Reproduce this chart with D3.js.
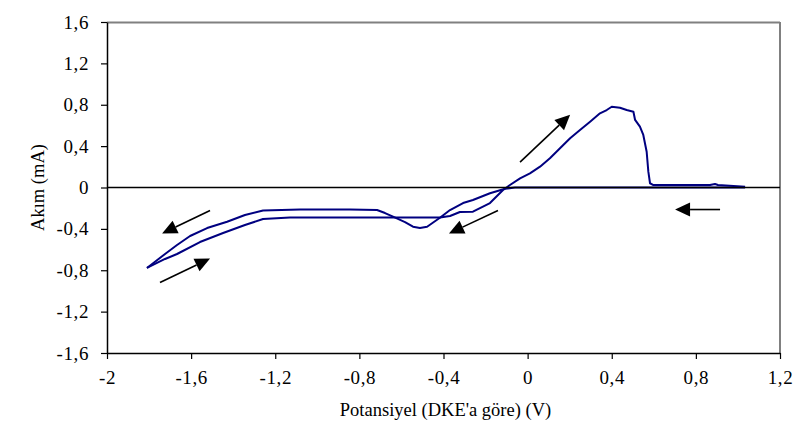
<!DOCTYPE html>
<html>
<head>
<meta charset="utf-8">
<script src="https://cdn.jsdelivr.net/npm/d3@7"></script>
<style>
  html, body { margin: 0; padding: 0; background: #fff; }
  svg { display: block; }
</style>
</head>
<body>
<svg id="chart" width="800" height="447"></svg>
<script>
// ---- data ----
const potentialTicks = [-2, -1.6, -1.2, -0.8, -0.4, 0, 0.4, 0.8, 1.2];
const currentTicks = [-1.6, -1.2, -0.8, -0.4, 0, 0.4, 0.8, 1.2, 1.6];

// cathodic scan (from +1.03 V towards -1.81 V)
const cathodicV = [1.034, 0.582, 0.154, -0.060, -0.107, -0.179, -0.260, -0.307, -0.369, -0.417, -0.478, -0.512, -0.545, -0.583, -0.640, -0.678, -0.716, -0.845, -1.082, -1.258, -1.344, -1.429, -1.524, -1.605, -1.667, -1.724, -1.810];
const cathodicI = [0, 0, 0, 0, -0.012, -0.056, -0.121, -0.150, -0.218, -0.292, -0.379, -0.392, -0.379, -0.334, -0.282, -0.247, -0.218, -0.213, -0.213, -0.222, -0.266, -0.331, -0.392, -0.469, -0.556, -0.643, -0.778];

// anodic scan (from -1.81 V back to +1.03 V)
const anodicV = [-1.810, -1.724, -1.667, -1.558, -1.448, -1.344, -1.258, -1.130, -0.845, -0.417, -0.369, -0.322, -0.260, -0.179, -0.117, -0.084, -0.036, 0.011, 0.059, 0.106, 0.154, 0.202, 0.249, 0.297, 0.344, 0.376, 0.400, 0.439, 0.471, 0.503, 0.511, 0.534, 0.550, 0.566, 0.574, 0.582, 0.598, 0.867, 0.891, 0.905, 1.034];
const anodicI = [-0.778, -0.691, -0.643, -0.527, -0.440, -0.363, -0.305, -0.290, -0.290, -0.290, -0.276, -0.237, -0.234, -0.150, -0.024, 0.024, 0.089, 0.137, 0.201, 0.282, 0.379, 0.476, 0.556, 0.636, 0.717, 0.749, 0.781, 0.771, 0.749, 0.733, 0.653, 0.588, 0.508, 0.346, 0.153, 0.041, 0.024, 0.024, 0.034, 0.024, 0.008];

// scan-direction arrows: tail and tip in data units
const arrowTailV = [-0.036, 0.915, -0.141, -1.510, -1.748];
const arrowTailI = [0.245, -0.213, -0.222, -0.222, -0.919];
const arrowTipV  = [0.202, 0.701, -0.374, -1.738, -1.510];
const arrowTipI  = [0.703, -0.213, -0.445, -0.445, -0.687];

const xTitle = "Potansiyel (DKE'a göre) (V)";
const yTitle = "Akım (mA)";

// ---- chart ----
const FONT = "'Liberation Serif', 'Times New Roman', Times, serif";
const svg = d3.select("#chart");
const pLeft = 107, pRight = 780, pTop = 22, pBottom = 353;
const x = d3.scaleLinear().domain([-2, 1.2]).range([pLeft, pRight]);
const y = d3.scaleLinear().domain([-1.6, 1.6]).range([pBottom, pTop]);
const fmt = d => String(+d.toFixed(1)).replace(".", ",");

// plot frame (top and right in grey)
svg.append("line").attr("x1", pLeft).attr("x2", pRight).attr("y1", pTop + 0.5).attr("y2", pTop + 0.5)
  .attr("stroke", "#808080").attr("stroke-width", 2);
svg.append("line").attr("x1", pRight).attr("x2", pRight).attr("y1", pTop).attr("y2", pBottom)
  .attr("stroke", "#808080").attr("stroke-width", 2);

// data lines
const line = d3.line().x(d => x(d[0])).y(d => y(d[1]));
const series = [
  d3.zip(cathodicV, cathodicI),
  d3.zip(anodicV, anodicI)
];
svg.append("g").selectAll("path").data(series).join("path")
  .attr("d", line)
  .attr("fill", "none")
  .attr("stroke", "#000080")
  .attr("stroke-width", 2)
  .attr("stroke-linejoin", "round");

// zero line
svg.append("line").attr("x1", pLeft).attr("x2", pRight).attr("y1", y(0)).attr("y2", y(0))
  .attr("stroke", "#000").attr("stroke-width", 1.6);

// axes
const xAxis = d3.axisBottom(x).tickValues(potentialTicks).tickFormat(fmt).tickSizeInner(6).tickSizeOuter(0).tickPadding(12);
const yAxis = d3.axisLeft(y).tickValues(currentTicks).tickFormat(fmt).tickSizeInner(6).tickSizeOuter(0).tickPadding(12);

const gx = svg.append("g").attr("transform", `translate(0,${pBottom})`).call(xAxis);
const gy = svg.append("g").attr("transform", `translate(${pLeft},0)`).call(yAxis);
[gx, gy].forEach(g => {
  g.attr("font-family", null).attr("font-size", null);
  g.select(".domain").attr("stroke", "#000").attr("stroke-width", 1.5);
  g.selectAll(".tick line").attr("stroke", "#000").attr("stroke-width", 1.2);
  g.selectAll(".tick text")
    .style("font-family", FONT).style("font-size", "19px").style("letter-spacing", "0.6px")
    .attr("fill", "#000");
});

// arrows
const ag = svg.append("g");
for (let k = 0; k < arrowTailV.length; k++) {
  const x1 = x(arrowTailV[k]), y1 = y(arrowTailI[k]);
  const x2 = x(arrowTipV[k]), y2 = y(arrowTipI[k]);
  const ang = Math.atan2(y2 - y1, x2 - x1);
  const L = 15, W = 7;
  const bx = x2 - L * Math.cos(ang), by = y2 - L * Math.sin(ang);
  ag.append("line").attr("x1", x1).attr("y1", y1).attr("x2", bx).attr("y2", by)
    .attr("stroke", "#000").attr("stroke-width", 1.6);
  const px = -Math.sin(ang) * W, py = Math.cos(ang) * W;
  ag.append("polygon")
    .attr("points", `${x2},${y2} ${bx + px},${by + py} ${bx - px},${by - py}`)
    .attr("fill", "#000");
}

// titles
svg.append("text").attr("x", (pLeft + pRight) / 2 + 2).attr("y", 416)
  .attr("text-anchor", "middle").style("font-family", FONT).style("font-size", "18.5px")
  .attr("fill", "#000").text(xTitle);
svg.append("text").attr("transform", `translate(44,${(pTop + pBottom) / 2}) rotate(-90)`)
  .attr("text-anchor", "middle").style("font-family", FONT).style("font-size", "18.5px")
  .attr("fill", "#000").text(yTitle);
</script>
</body>
</html>
